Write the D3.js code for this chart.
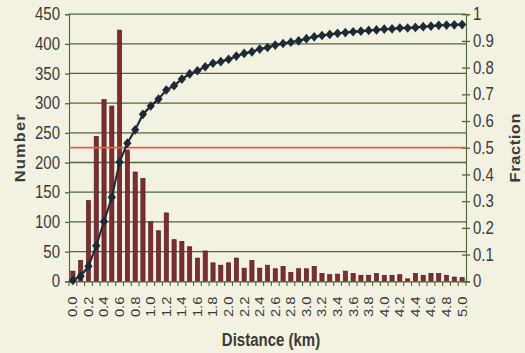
<!DOCTYPE html>
<html>
<head>
<meta charset="utf-8">
<script src="https://cdn.jsdelivr.net/npm/d3@7"></script>
<style>
  html, body { margin: 0; padding: 0; background: #f3f1e2; }
  svg { display: block; }
  text { font-family: "Liberation Sans", Arial, sans-serif; fill: #3b3b36; }
</style>
</head>
<body>
<div id="chart"></div>
<script>
// distance bins (km), one bar per 0.1 km
const distances = ['0.0','0.1','0.2','0.3','0.4','0.5','0.6','0.7','0.8','0.9',
  '1.0','1.1','1.2','1.3','1.4','1.5','1.6','1.7','1.8','1.9',
  '2.0','2.1','2.2','2.3','2.4','2.5','2.6','2.7','2.8','2.9',
  '3.0','3.1','3.2','3.3','3.4','3.5','3.6','3.7','3.8','3.9',
  '4.0','4.1','4.2','4.3','4.4','4.5','4.6','4.7','4.8','4.9','5.0'];

// number per bin (left axis)
const counts = [17, 35, 136, 244, 306, 295, 423, 221, 184, 173,
  100, 85, 115, 70, 67, 58, 39, 51, 31, 27,
  31, 39, 22, 35, 22, 27, 21, 25, 15, 21,
  21, 25, 13, 11, 12, 17, 13, 10, 10, 13,
  10, 10, 11, 4, 13, 10, 13, 13, 10, 7, 6];

// cumulative fraction (right axis)
const fraction = [0.003, 0.019, 0.056, 0.133, 0.224, 0.314, 0.446, 0.517, 0.567, 0.625,
  0.656, 0.682, 0.716, 0.732, 0.757, 0.776, 0.788, 0.803, 0.816, 0.822,
  0.831, 0.843, 0.853, 0.859, 0.869, 0.875, 0.884, 0.890, 0.895, 0.900,
  0.908, 0.915, 0.920, 0.924, 0.928, 0.931, 0.934, 0.936, 0.939, 0.941,
  0.944, 0.945, 0.948, 0.948, 0.950, 0.953, 0.955, 0.958, 0.959, 0.960, 0.961];

const leftTicks = [0, 50, 100, 150, 200, 250, 300, 350, 400, 450];
const rightTicks = [0, 0.1, 0.2, 0.3, 0.4, 0.5, 0.6, 0.7, 0.8, 0.9, 1];
const halfLine = 0.5;

// the picture is a bit taller than its drawing, so draw in a flatter box and stretch it
const W = 525, H = 300;
const margin = { top: 12, right: 59, bottom: 61, left: 69 };
const innerW = W - margin.left - margin.right;
const innerH = H - margin.top - margin.bottom;

const grid = '#52653a';
const ink = '#1d2a36';

const svg = d3.select('#chart')
  .append('svg')
  .attr('width', 525)
  .attr('height', 353)
  .attr('viewBox', `0 0 ${W} ${H}`)
  .attr('preserveAspectRatio', 'none');

const g = svg.append('g')
  .attr('transform', `translate(${margin.left},${margin.top})`);

const x = d3.scaleBand()
  .domain(distances)
  .range([0, innerW])
  .paddingInner(0.46)
  .paddingOuter(0.23);

const y = d3.scaleLinear().domain([0, 450]).range([innerH, 0]);
const y2 = d3.scaleLinear().domain([0, 1]).range([innerH, 0]);

// horizontal gridlines
g.append('g')
  .selectAll('line')
  .data(leftTicks.slice(1))
  .enter()
  .append('line')
  .attr('x1', 0)
  .attr('x2', innerW)
  .attr('y1', d => y(d))
  .attr('y2', d => y(d))
  .attr('stroke', grid)
  .attr('stroke-width', 1.1);

// bars
g.append('g')
  .selectAll('rect')
  .data(counts)
  .enter()
  .append('rect')
  .attr('x', (d, i) => x(distances[i]))
  .attr('width', x.bandwidth())
  .attr('y', d => y(d))
  .attr('height', d => innerH - y(d))
  .attr('fill', '#7c2d2f')
  .attr('stroke', '#4a1a1c')
  .attr('stroke-width', 0.6);

// left axis
const yAxis = g.append('g')
  .call(d3.axisLeft(y).tickValues(leftTicks).tickSize(4).tickPadding(5));
yAxis.selectAll('text').style('font-size', '15px');

// right axis, ticks cross the line
const y2Axis = g.append('g')
  .attr('transform', `translate(${innerW},0)`)
  .call(d3.axisRight(y2).tickValues(rightTicks).tickSize(4).tickPadding(3)
    .tickFormat(d => d === 0 || d === 1 ? d3.format('d')(d) : d3.format('.1f')(d)));
y2Axis.selectAll('.tick line').attr('x1', -4);
y2Axis.selectAll('text').style('font-size', '15px');

// bottom axis with ticks between bins
const xAxis = g.append('g')
  .attr('transform', `translate(0,${innerH})`)
  .call(d3.axisBottom(x).tickSize(0).tickFormat((d, i) => i % 2 === 0 ? d : ''));
xAxis.selectAll('text')
  .style('font-size', '12.6px')
  .attr('transform', 'rotate(-90)')
  .attr('text-anchor', 'end')
  .attr('x', -13)
  .attr('y', 0)
  .attr('dy', '0.35em');

const step = x.step();
xAxis.append('g')
  .selectAll('line')
  .data(d3.range(distances.length + 1))
  .enter()
  .append('line')
  .attr('x1', i => x(distances[0]) - x.paddingInner() * step / 2 + i * step)
  .attr('x2', i => x(distances[0]) - x.paddingInner() * step / 2 + i * step)
  .attr('y1', 0)
  .attr('y2', 4)
  .attr('stroke', grid);

[yAxis, y2Axis, xAxis].forEach(a => {
  a.selectAll('path, line').attr('stroke', grid).attr('stroke-width', 1.1);
  a.selectAll('text').style('fill', '#3b3b36').style('font-family', '"Liberation Sans", Arial, sans-serif');
});

// 50 % line
g.append('line')
  .attr('x1', 0)
  .attr('x2', innerW)
  .attr('y1', y2(halfLine))
  .attr('y2', y2(halfLine))
  .attr('stroke', '#e8603f')
  .attr('stroke-width', 1.6);

// cumulative line with diamond markers
const cx = (d, i) => x(distances[i]) + x.bandwidth() / 2;
g.append('path')
  .datum(fraction)
  .attr('fill', 'none')
  .attr('stroke', ink)
  .attr('stroke-width', 2)
  .attr('d', d3.line().x(cx).y(d => y2(d)));

const diamond = d3.symbol().type(d3.symbolSquare).size(34);
g.append('g')
  .selectAll('path')
  .data(fraction)
  .enter()
  .append('path')
  .attr('d', diamond)
  .attr('transform', (d, i) => `translate(${cx(d, i)},${y2(d)}) rotate(45)`)
  .attr('fill', ink);

// axis titles
svg.append('text')
  .attr('transform', `translate(25,${margin.top + innerH / 2}) rotate(-90)`)
  .attr('text-anchor', 'middle')
  .style('font-size', '14px')
  .style('font-weight', 'bold')
  .style('letter-spacing', '1px')
  .text('Number');

svg.append('text')
  .attr('transform', `translate(520,${margin.top + innerH / 2}) rotate(-90)`)
  .attr('text-anchor', 'middle')
  .style('font-size', '14px')
  .style('font-weight', 'bold')
  .style('letter-spacing', '0.5px')
  .text('Fraction');

svg.append('text')
  .attr('x', 271)
  .attr('y', 294)
  .attr('text-anchor', 'middle')
  .style('font-size', '15px')
  .style('font-weight', 'bold')
  .text('Distance (km)');
</script>
</body>
</html>
